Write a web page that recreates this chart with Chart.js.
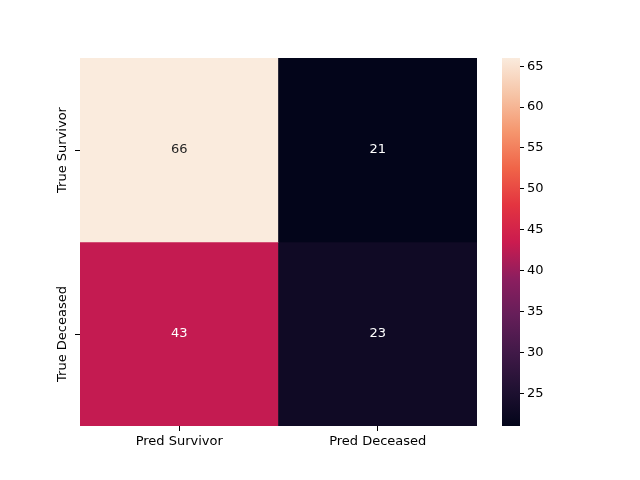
<!DOCTYPE html>
<html><head><meta charset="utf-8">
<script src="https://cdn.jsdelivr.net/npm/chart.js@4/dist/chart.umd.min.js"></script>
<style>
body{margin:0;background:#fff;}
canvas{position:absolute;left:0;top:0;}
</style></head>
<body>
<canvas id="heat" width="640" height="480"></canvas>
<canvas id="cbar" width="640" height="480"></canvas>
<script>
const colLabels = ['Pred Survivor', 'Pred Deceased'];
const rowLabels = ['True Survivor', 'True Deceased'];
const matrix = [[66, 21], [43, 23]];
const vmin = 21, vmax = 66;
const cbTicks = [25, 30, 35, 40, 45, 50, 55, 60, 65];

// rocket colormap stops
const rocket = [
  [0.0, [3, 5, 26]], [0.1, [32, 17, 50]], [0.2, [65, 25, 72]], [0.3, [101, 30, 89]],
  [0.4, [140, 30, 95]], [0.5, [203, 27, 79]], [0.6, [227, 52, 64]], [0.7, [240, 100, 72]],
  [0.8, [245, 150, 110]], [0.9, [246, 196, 166]], [1.0, [250, 235, 221]]
];
function cmap(t) {
  t = Math.max(0, Math.min(1, t));
  for (let i = 1; i < rocket.length; i++) {
    if (t <= rocket[i][0]) {
      const [t0, a] = rocket[i - 1], [t1, b] = rocket[i];
      const f = (t - t0) / (t1 - t0);
      return 'rgb(' + a.map((v, k) => Math.round(v + (b[k] - v) * f)).join(',') + ')';
    }
  }
  return 'rgb(250,235,221)';
}
const norm = v => (v - vmin) / (vmax - vmin);
Chart.defaults.font = { family: 'DejaVu Sans', size: 13 };
Chart.defaults.color = '#000';

const labelPlugin = {
  id: 'labels',
  afterDatasetsDraw(chart) {
    const ctx = chart.ctx;
    ctx.save();
    ctx.font = '13px DejaVu Sans';
    ctx.textAlign = 'center';
    ctx.textBaseline = 'middle';
    chart.data.datasets.forEach((ds, r) => {
      chart.getDatasetMeta(r).data.forEach((bar, c) => {
        const v = matrix[r][c];
        ctx.fillStyle = norm(v) > 0.6 ? '#262626' : '#fff';
        const p = bar.getProps(['x', 'y', 'base'], true);
        ctx.fillText(v, p.x, (p.y + p.base) / 2);
      });
    });
    const ys = chart.scales.y;
    rowLabels.forEach((lab, r) => {
      const y = ys.getPixelForValue(r + 0.5);
      ctx.save();
      ctx.translate(ys.right - 17, y);
      ctx.rotate(-Math.PI / 2);
      ctx.fillStyle = '#000';
      ctx.fillText(lab, 0, 0);
      ctx.restore();
    });
    ctx.restore();
  }
};

new Chart(document.getElementById('heat'), {
  type: 'bar',
  data: {
    labels: colLabels,
    datasets: rowLabels.map((lab, r) => ({
      label: lab,
      data: colLabels.map(() => 1),
      backgroundColor: matrix[r].map(v => cmap(norm(v))),
      barPercentage: 1, categoryPercentage: 1, borderWidth: 0
    }))
  },
  options: {
    responsive: false, animation: false,
    layout: { padding: { left: 0, right: 163, top: 58, bottom: 0 } },
    plugins: { legend: { display: false }, tooltip: { enabled: false } },
    scales: {
      x: {
        stacked: true,
        grid: { display: true, drawOnChartArea: false, tickLength: 5, color: '#000', offset: false },
        border: { display: false },
        ticks: { padding: 3, maxRotation: 0, minRotation: 0 },
        afterFit(s) { s.height = 54; }
      },
      y: {
        stacked: true, reverse: true, min: 0, max: 2,
        afterBuildTicks(s) { s.ticks = [{ value: 0.5 }, { value: 1.5 }]; },
        ticks: { callback: () => '' },
        grid: { drawOnChartArea: false, tickLength: 5, color: '#000' },
        border: { display: false },
        afterFit(s) { s.width = 80; }
      }
    }
  },
  plugins: [labelPlugin]
});

new Chart(document.getElementById('cbar'), {
  type: 'bar',
  data: {
    labels: [''],
    datasets: [{
      data: [[vmin, vmax]],
      barPercentage: 1, categoryPercentage: 1, borderWidth: 0,
      backgroundColor(c) {
        const a = c.chart.chartArea;
        if (!a) return '#000';
        const g = c.chart.ctx.createLinearGradient(0, a.bottom, 0, a.top);
        rocket.forEach(([t]) => g.addColorStop(t, cmap(t)));
        return g;
      }
    }]
  },
  options: {
    responsive: false, animation: false,
    layout: { padding: { left: 502, right: 0, top: 58, bottom: 54 } },
    plugins: { legend: { display: false }, tooltip: { enabled: false } },
    scales: {
      x: { display: false },
      y: {
        position: 'right', min: vmin, max: vmax,
        afterBuildTicks(s) { s.ticks = cbTicks.map(v => ({ value: v })); },
        grid: { drawOnChartArea: false, tickLength: 4, color: '#000' },
        border: { display: false },
        ticks: { padding: 3 },
        afterFit(s) { s.width = 120; }
      }
    }
  }
});
</script>
</body></html>
